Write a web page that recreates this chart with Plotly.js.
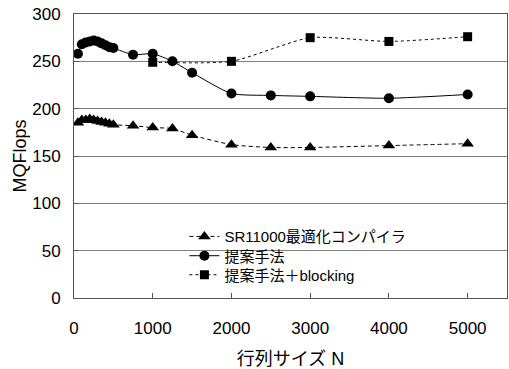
<!DOCTYPE html>
<html>
<head>
<meta charset="utf-8">
<script src="https://cdn.plot.ly/plotly-3.0.1.min.js"></script>
<style>html,body{margin:0;padding:0;background:#fff;}#chart{width:509px;height:369px;}</style>
</head>
<body>
<div id="chart"></div>
<script>
// Data
const seriesNames = ["SR11000最適化コンパイラ", "提案手法", "提案手法＋blocking"];
const nSR = [50,100,150,200,250,300,350,400,450,500,750,1000,1250,1500,2000,2500,3000,4000,5000];
const valSR = [185,188,188,189,188,187,186,185,184,183,182,180,179,172,162,159,159,161,163];
const nProp = [50,100,150,200,250,300,350,400,450,500,750,1000,1250,1500,2000,2500,3000,4000,5000];
const valProp = [258,268,270,271,272,271,269,267,265,264,257,258,250,238,216,214,213,211,215];
const nBlk = [1000,2000,3000,4000,5000];
const valBlk = [249,250,275,271,276];
const xTicks = [0,1000,2000,3000,4000,5000];
const yTicks = [0,50,100,150,200,250,300];

const FONT = "'Liberation Sans', 'Noto Sans CJK JP', sans-serif";

const traces = [
  {x:nSR, y:valSR, name:seriesNames[0], mode:'lines+markers', legend:'legend',
   line:{color:'#000', width:1, dash:'4px,3px', shape:'spline', smoothing:0.6},
   marker:{symbol:'triangle-up', size:11, color:'#000'}},
  {x:nProp, y:valProp, name:seriesNames[1], mode:'lines+markers', legend:'legend2',
   line:{color:'#000', width:1, dash:'solid', shape:'spline', smoothing:0.6},
   marker:{symbol:'circle', size:10, color:'#000'}},
  {x:nBlk, y:valBlk, name:seriesNames[2], mode:'lines+markers', legend:'legend3',
   line:{color:'#000', width:1, dash:'dot', shape:'spline', smoothing:0.6},
   marker:{symbol:'square', size:9, color:'#000'}}
];

function leg(yc){
  return {x:0.255, y:yc, xanchor:'left', yanchor:'middle',
          bgcolor:'rgba(0,0,0,0)', font:{family:FONT, size:15, color:'#000'}};
}

const layout = {
  width:509, height:369,
  margin:{l:74, r:2, t:14, b:71},
  paper_bgcolor:'#fff', plot_bgcolor:'#fff',
  font:{family:FONT, size:17, color:'#000'},
  showlegend:true,
  legend:leg(0.216), legend2:leg(0.148), legend3:leg(0.081),
  xaxis:{range:[0,5500], tickvals:xTicks, ticktext:xTicks.map(String),
         ticks:'inside', ticklen:5, tickcolor:'#555',
         showline:true, linecolor:'#555', linewidth:1, mirror:true,
         showgrid:false, zeroline:false, ticklabelstandoff:15,
         title:{text:'行列サイズ N', font:{family:FONT, size:18}, standoff:16}},
  yaxis:{range:[0,300], tickvals:yTicks, ticktext:yTicks.map(String),
         ticks:'inside', ticklen:5, tickcolor:'#555',
         showline:true, linecolor:'#555', linewidth:1, mirror:true,
         showgrid:true, gridcolor:'#808080', gridwidth:1, zeroline:false,
         ticklabelstandoff:9,
         title:{text:'MQFlops', font:{family:FONT, size:18}, standoff:0}},
  shapes:[{type:'rect', xref:'paper', yref:'paper', x0:0.111, x1:0.924, y0:0.025, y1:0.27,
           fillcolor:'#fff', line:{width:0}, layer:'between'}]
};

Plotly.newPlot('chart', traces, layout, {displayModeBar:false, staticPlot:true});
</script>
</body>
</html>
